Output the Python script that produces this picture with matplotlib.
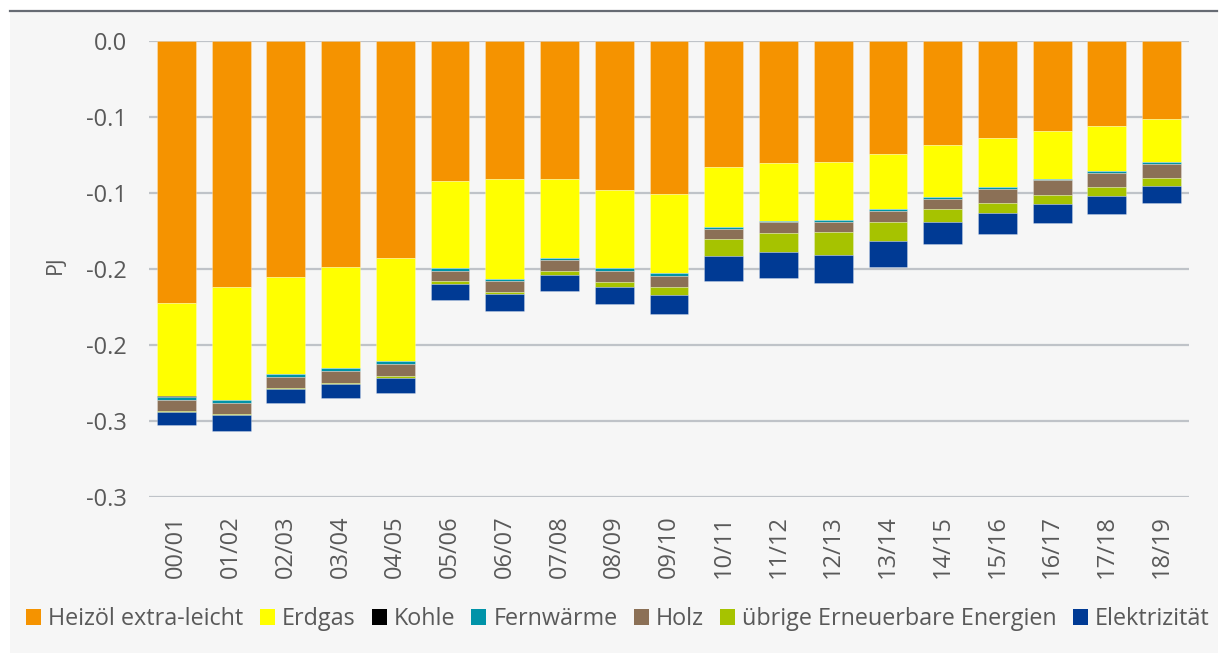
import matplotlib
matplotlib.use("Agg")
import matplotlib.pyplot as plt
from matplotlib.patches import Rectangle, Patch
from matplotlib.lines import Line2D
import numpy as np

plt.rcParams["font.family"] = ["Open Sans", "DejaVu Sans"]

# Heizperioden
periods = ["00/01", "01/02", "02/03", "03/04", "04/05", "05/06", "06/07", "07/08",
           "08/09", "09/10", "10/11", "11/12", "12/13", "13/14", "14/15", "15/16",
           "16/17", "17/18", "18/19"]

# Energieträger (PJ, als negative Werte gestapelt)
heizoel = [0.1724, 0.1616, 0.1555, 0.1487, 0.1430, 0.0919, 0.0906, 0.0906, 0.0982, 0.1004,
           0.0827, 0.0800, 0.0796, 0.0743, 0.0684, 0.0638, 0.0594, 0.0559, 0.0515]
erdgas = [0.0610, 0.0745, 0.0636, 0.0662, 0.0676, 0.0577, 0.0660, 0.0520, 0.0513, 0.0524,
          0.0397, 0.0382, 0.0380, 0.0362, 0.0340, 0.0322, 0.0311, 0.0296, 0.0281]
kohle = [0.0008, 0.0, 0.0, 0.0, 0.0, 0.0, 0.0, 0.0, 0.0, 0.0,
         0.0, 0.0, 0.0, 0.0, 0.0, 0.0, 0.0, 0.0, 0.0]
fernwaerme = [0.0017, 0.0018, 0.0020, 0.0020, 0.0020, 0.0017, 0.0015, 0.0017, 0.0017, 0.0015,
              0.0013, 0.0011, 0.0013, 0.0013, 0.0013, 0.0011, 0.0009, 0.0011, 0.0011]
holz = [0.0077, 0.0077, 0.0072, 0.0081, 0.0079, 0.0066, 0.0070, 0.0070, 0.0072, 0.0077,
        0.0066, 0.0068, 0.0068, 0.0072, 0.0068, 0.0092, 0.0099, 0.0094, 0.0094]
uebrige_ee = [0.0003, 0.0004, 0.0009, 0.0007, 0.0009, 0.0018, 0.0014, 0.0024, 0.0033, 0.0050,
              0.0110, 0.0130, 0.0154, 0.0125, 0.0088, 0.0070, 0.0059, 0.0059, 0.0050]
elektrizitaet = [0.0090, 0.0107, 0.0092, 0.0094, 0.0099, 0.0107, 0.0110, 0.0110, 0.0112, 0.0127,
                 0.0167, 0.0171, 0.0180, 0.0171, 0.0145, 0.0138, 0.0127, 0.0120, 0.0116]

series_names = ["Heizöl extra-leicht", "Erdgas", "Kohle", "Fernwärme", "Holz",
                "übrige Erneuerbare Energien", "Elektrizität"]
series_values = [heizoel, erdgas, kohle, fernwaerme, holz, uebrige_ee, elektrizitaet]
series_colors = ["#F59300", "#FFFF00", "#000000", "#0093A8", "#8B7056", "#A6C300", "#003A94"]

yticks = [0.0, -0.05, -0.1, -0.15, -0.2, -0.25, -0.3]
ytick_labels = ["0.0", "-0.1", "-0.1", "-0.2", "-0.2", "-0.3", "-0.3"]

text_color = "#595959"
bg = "#F6F6F6"

W, H = 1222, 653
fig = plt.figure(figsize=(W / 100, H / 100), dpi=100, facecolor="white")

# light panel with a dark rule on top
fig.patches.append(Rectangle((10 / W, 0), 1208 / W, (H - 11) / H, transform=fig.transFigure,
                             facecolor=bg, edgecolor="none", zorder=-10))
fig.lines.append(Line2D([10 / W, 1217 / W], [1 - 10.5 / H, 1 - 10.5 / H], transform=fig.transFigure,
                        color="#666B73", lw=1.6, zorder=-5))

ax = fig.add_axes([149 / W, 156 / H, 1040 / W, 456 / H])
ax.set_facecolor(bg)

x = np.arange(len(periods))
bottom = np.zeros(len(periods))
for name, vals, col in zip(series_names, series_values, series_colors):
    v = -np.asarray(vals)
    ax.bar(x, v, width=0.71, bottom=bottom, color=col, label=name,
           edgecolor=(1, 1, 1, 0.3), linewidth=0.6, zorder=3)
    bottom += v

ax.set_ylim(-0.3, 0.0)
ax.set_xlim(-0.5, len(periods) - 0.5)
ax.set_yticks(yticks)
ax.set_yticklabels(ytick_labels)
ax.set_xticks(x)
ax.set_xticklabels(periods, rotation=90)
ax.tick_params(axis="y", length=0, pad=16, labelsize=17, labelcolor=text_color)
ax.tick_params(axis="x", length=0, pad=13, labelsize=17, labelcolor=text_color)
for lbl in ax.get_xticklabels():
    lbl.set_verticalalignment("top")

ax.grid(axis="y", color="#BFC3C8", linewidth=1.6, zorder=0)
ax.set_axisbelow(True)
for s in ax.spines.values():
    s.set_visible(False)

ax.set_ylabel("PJ", fontsize=15.5, color=text_color)
ax.yaxis.set_label_coords(-0.08, 0.51)

handles = [Patch(facecolor=c, edgecolor="none") for c in series_colors]
fig.legend(handles, series_names, loc="center", bbox_to_anchor=(618 / W, 1 - 619 / H),
           ncol=7, frameon=False, fontsize=16.8, labelcolor=text_color,
           handlelength=0.64, handleheight=0.64, handletextpad=0.3, columnspacing=0.7,
           borderpad=0, borderaxespad=0)

fig.savefig("out.png", dpi=100, facecolor="white")
